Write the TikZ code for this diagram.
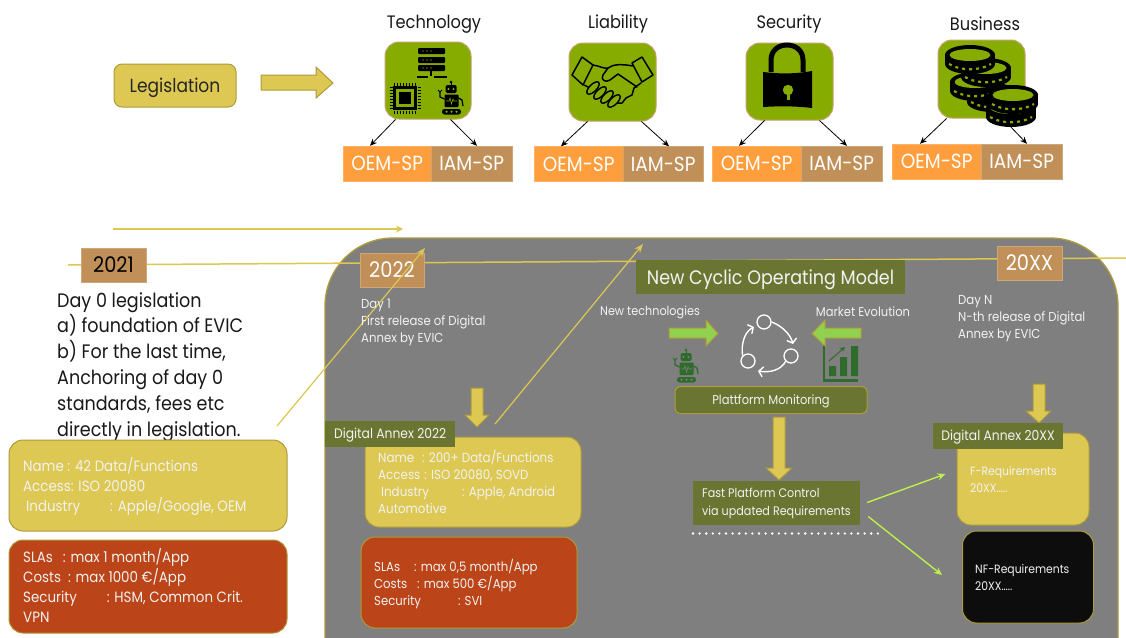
\documentclass[tikz,border=0pt]{standalone}
\usepackage{fontspec}
\setmainfont[FakeStretch=0.9]{Poppins}
\usetikzlibrary{arrows.meta,calc}
\definecolor{ygold}{HTML}{DDC853}
\definecolor{yline}{HTML}{DCC850}
\definecolor{bord}{HTML}{AD9B3C}
\definecolor{tan}{HTML}{C09058}
\definecolor{orng}{HTML}{FF9E3D}
\definecolor{leaf}{HTML}{87AC00}
\definecolor{olive}{HTML}{6B7532}
\definecolor{rust}{HTML}{BB4418}
\definecolor{panel}{HTML}{7F7F7F}
\definecolor{lime}{HTML}{92D050}
\definecolor{limeln}{HTML}{BDF04A}
\definecolor{dkgreen}{HTML}{2F6B2A}
\definecolor{soft}{HTML}{F2F2F2}
\newcommand{\fs}[2]{\fontsize{#1}{#2}\selectfont}
\newcommand{\robotic}[4]{% x y fg bg
 \begin{scope}[shift={(#1,#2)}]
  \fill[#3] (0,-16) circle[radius=1.3];
  \draw[#3,line width=1] (0,-16) -- (0,-13);
  \fill[#3,rounded corners=1.5] (-5.5,-13) rectangle (5.5,-5);
  \fill[#4] (-2.5,-9) circle[radius=1.1] (2.5,-9) circle[radius=1.1];
  \fill[#3,rounded corners=.8] (-6.5,-3.5) rectangle (7.5,9);
  \draw[#4,line width=.6] (-5,3) -- (-2,3) -- (-1,0) -- (.5,6) -- (2,1) -- (3,3) -- (6,3);
  \draw[#3,line width=1.3] (-6.5,1) -- (-11,-1) -- (-11,-6);
  \draw[#3,line width=1] (-13,-8) -- (-11,-6) -- (-9,-8);
  \draw[#3,line width=1.3] (7.5,0) -- (11,2) -- (12,8);
  \fill[#3,rounded corners=2.5] (-9,11) rectangle (10,16.5);
  \fill[#4] (-4.5,13.7) circle[radius=1.2] (.5,13.7) circle[radius=1.2] (5.5,13.7) circle[radius=1.2];
 \end{scope}}
\newcommand{\coinic}[2]{%
 \begin{scope}[shift={(#1,#2)}]
  \fill[black] (0,9) ellipse[x radius=25,y radius=10];
  \fill[black] (-25,0) rectangle (25,9);
  \fill[black] (0,0) ellipse[x radius=25,y radius=10];
  \fill[leaf] (0,0) ellipse[x radius=20.5,y radius=6];
  \draw[leaf,line width=2.2,dash pattern=on 3pt off 4pt] (-21,9) .. controls (-10,16) and (10,16) .. (21,9);
 \end{scope}}
\tikzset{
 x=1pt,y=-1pt,
 softbox/.style={rounded corners=#1,draw=bord,line width=1},
 softbox/.default=14,
 tag/.style={fill=olive,text=soft,inner sep=0,minimum height=26,font=\fs{13.7}{16},text height=13.9pt,text depth=4pt},
 sqbox/.style={draw=#1!80!white,fill=#1,inner sep=0,minimum height=35,text=white,font=\fs{20.5}{22},text height=18.8pt,text depth=4pt},
 yearbox/.style={fill=tan,draw=tan!80!white,line width=.6,inner sep=0,minimum width=65,minimum height=34,font=\fs{21.5}{24},text height=19.5pt,text depth=4pt},
 ttl/.style={inner sep=0,anchor=base,font=\fs{18}{20},text=black!90},
 iconbox/.style={draw=tan!85!white,line width=1,fill=leaf,rounded corners=14,inner sep=0},
 tiny/.style={-{Stealth[length=7pt,width=6pt]},line width=.8,black},
 timel/.style={yline,line width=1.5},
 thin arrow/.style={yline,line width=1.2,-{Stealth[length=9pt,width=7pt]}},
 pointer/.style={limeln,line width=1.4,-{Stealth[length=8pt,width=7pt]}},
 blocky/.style={draw=bord,line width=1,fill=ygold},
 blockg/.style={draw=bord,line width=1,fill=lime},
 para/.style={inner sep=0,anchor=north west,align=left,text=soft},
 spin/.style={white,line width=1.4,-{Straight Barb[length=4pt,width=10pt]}},
 ring/.style={circle,draw=white,line width=1.3,minimum size=14,inner sep=0},
}
\begin{document}
\begin{tikzpicture}
\clip (0,0) rectangle (1126,637);
\fill[white] (0,0) rectangle (1126,637);
% panel
\draw[panel,fill=panel,draw=bord,line width=1.3,rounded corners=68] (325,238) rectangle (1118,720);
% timeline
\coordinate (tlstart) at (68,265);
\coordinate (tlend) at (1126,258);
\draw[timel] (tlstart) -- (tlend);
\coordinate (topa) at (113,229);
\coordinate (topb) at (403,229);
\draw[yline,line width=1.2,-{Stealth[length=7pt,width=7pt]}] (topa) -- (topb);
% top row
\node[rounded corners=8,draw=bord,line width=1,fill=ygold,inner sep=0,minimum width=122,minimum height=43,font=\fs{19}{21},text=black!85,text height=17.7pt,text depth=4pt] (legis) at (175,85.5) {Legislation};
\draw[blocky] (261,75) -- (316,75) -- (316,67) -- (333,83) -- (316,98) -- (316,90) -- (261,90) -- cycle;

\node[ttl] (t1) at (434,28) {Technology};
\node[ttl] (t2) at (618,28) {Liability};
\node[ttl] (t3) at (789,28) {Security};
\node[ttl] (t4) at (985,30) {Business};

\node[iconbox,minimum width=86,minimum height=77] (i1) at (428,80.5) {};
\node[iconbox,minimum width=87,minimum height=78] (i2) at (612.5,82) {};
\node[iconbox,minimum width=87,minimum height=77] (i3) at (789.5,81.5) {};
\node[iconbox,minimum width=87,minimum height=78] (i4) at (981.5,79) {};

\node[sqbox=orng,minimum width=88,anchor=west] (o1) at (343,163.5) {OEM-SP};
\node[sqbox=tan,minimum width=81,anchor=west] (m1) at (431,163.5) {IAM-SP};
\node[sqbox=orng,minimum width=89,anchor=west] (o2) at (534,164) {OEM-SP};
\node[sqbox=tan,minimum width=80,anchor=west] (m2) at (623,164) {IAM-SP};
\node[sqbox=orng,minimum width=89,anchor=west] (o3) at (712,163.5) {OEM-SP};
\node[sqbox=tan,minimum width=81,anchor=west] (m3) at (801,163.5) {IAM-SP};
\node[sqbox=orng,minimum width=89,anchor=west] (o4) at (892,161.5) {OEM-SP};
\node[sqbox=tan,minimum width=81,anchor=west] (m4) at (981,161.5) {IAM-SP};

\draw[tiny] ([xshift=11pt]i1.south west) -- ([xshift=27pt]o1.north west);
\draw[tiny] ([xshift=66pt]i1.south west) -- ([xshift=46pt]m1.north west);
\draw[tiny] ([xshift=19pt]i2.south west) -- ([xshift=27pt]o2.north west);
\draw[tiny] ([xshift=73pt]i2.south west) -- ([xshift=46pt]m2.north west);
\draw[tiny] ([xshift=19pt]i3.south west) -- ([xshift=27pt]o3.north west);
\draw[tiny] ([xshift=74pt]i3.south west) -- ([xshift=46pt]m3.north west);
\draw[tiny] ([xshift=9pt]i4.south west) -- ([xshift=28pt]o4.north west);
\coordinate (coinout) at (1008,124);
\draw[tiny] (coinout) -- ([xshift=46pt]m4.north west);

% server icon
\foreach \yy in {48,57,65}{
 \fill[black,rounded corners=1] (418,\yy) rectangle (445,\yy+6);
 \fill[ygold] (423,\yy+3) circle[radius=.7] (427,\yy+3) circle[radius=.7] (431,\yy+3) circle[radius=.7];
}
\draw[black,line width=2] (431,71) -- (431,76);
\draw[black,line width=1.4] (417,77) -- (428,77) (434,77) -- (447,77);
% chip icon
\fill[black] (393,86) rectangle (417,110);
\fill[leaf] (396,89) rectangle (414,107);
\fill[black] (399,92) rectangle (411,104);
\foreach \kk in {0,...,7}{
 \draw[black,line width=.9] (394.5+3*\kk,82.5) -- (394.5+3*\kk,85.5) (394.5+3*\kk,110.5) -- (394.5+3*\kk,113.5);
 \draw[black,line width=.9] (389.5,87.5+3*\kk) -- (392.5,87.5+3*\kk) (417.5,87.5+3*\kk) -- (420.5,87.5+3*\kk);
}
\robotic{451}{98}{black}{leaf}
% handshake
\begin{scope}[black,line width=1.5,line join=round,line cap=round]
 \draw (582,57) -- (593,65) -- (583,85) -- (572,75) -- cycle;
 \draw (642,57) -- (653,75) -- (642,82) -- (632,63) -- cycle;
 \draw (593,65) .. controls (600,66) and (604,69) .. (608,68) .. controls (613,64) and (622,64) .. (633,66);
 \draw (608,68) -- (603,75) .. controls (600,80) and (606,83) .. (610,80) -- (618,74) -- (637,87);
 \draw (641,83) -- (634,88) -- (632,95) -- (626,98) -- (622,103) -- (616,103);
 \draw (584,85) -- (590,88);
\end{scope}
\foreach \cx/\cy in {593/88,600/93,607/97,614/101}{
 \draw[black,line width=1.4,fill=leaf,rotate around={45:(\cx,\cy)}] (\cx,\cy) ellipse[x radius=8,y radius=3.6];
}
% lock
\draw[black,line width=5] (771,72) -- (771,60) .. controls (771,40) and (803,40) .. (803,60) -- (803,72);
\fill[black] (763,72) .. controls (780,74) and (795,74) .. (812,71) -- (812,108) .. controls (795,106) and (780,106) .. (763,107) -- cycle;
\fill[leaf] (788,90) circle[radius=5.2];
\fill[leaf] (786.5,90) rectangle (789.5,100);
% coins
\coinic{992}{93}
\coinic{975}{82}
\coinic{986}{68}
\coinic{970}{55}
\coinic{1011}{108}
\coinic{1013}{95}

% years
\node[yearbox,text=black] (y21) at (113.5,265) {2021};
\node[yearbox,text=white,minimum width=64] (y22) at (392,270) {2022};
\node[yearbox,text=white] (yxx) at (1029.5,263) {20XX};

% left column
\node[para,text=black!90,font=\fs{19.5}{25.8}] (day0) at (57,292) {Day 0 legislation\\a) foundation of EVIC\\b) For the last time,\\Anchoring of day 0\\standards, fees etc\\directly in legislation.};
\node[softbox,fill=ygold,inner sep=0,minimum width=278,minimum height=91] (ya) at (148,485.5) {};
\node[para,font=\fs{14.9}{20}] (yat) at (23,457.5) {Name : 42 Data/Functions\\Access: ISO 20080\\\hspace{3pt}Industry\hspace{30pt}: Apple/Google, OEM};
\node[softbox,fill=rust,inner sep=0,minimum width=278,minimum height=93] (ra) at (148,586.5) {};
\node[para,font=\fs{14.9}{20}] (rat) at (23,548.5) {SLAs\hspace{10pt}: max 1 month/App\\Costs\hspace{7pt}: max 1000 €/App\\Security\hspace{30pt}: HSM, Common Crit.\\VPN};

% slanted arrows
\coordinate (sa1) at (277,426);
\coordinate (sa2) at (425,248);
\coordinate (sb1) at (495,424);
\coordinate (sb2) at (643,244);
\draw[thin arrow] (sa1) -- (sa2);
\draw[thin arrow] (sb1) -- (sb2);

% 2022 column
\node[para,font=\fs{13}{17}] (d1) at (361,299) {Day 1\\First release of Digital\\Annex by EVIC};
\draw[blocky] (471,388) -- (483,388) -- (483,415) -- (489,415) -- (477,427) -- (465,415) -- (471,415) -- cycle;
\node[softbox,fill=ygold,inner sep=0,minimum width=216,minimum height=90] (yb) at (473,482) {};
\node[tag,minimum width=130,anchor=west] (ta) at (325,433.5) {Digital Annex 2022};
\node[para,font=\fs{13.2}{17}] (ybt) at (378,450) {Name\hspace{8pt}: 200+ Data/Functions\\Access\hspace{4pt}: ISO 20080, SOVD\\\hspace{3pt}Industry\hspace{33pt}: Apple, Android\\Automotive};
\node[softbox,fill=rust,inner sep=0,minimum width=216,minimum height=91] (rb) at (469,582.5) {};
\node[para,font=\fs{13}{17}] (rbt) at (374,559) {SLAs\hspace{14pt}: max 0,5 month/App\\Costs\hspace{10pt}: max 500 €/App\\Security\hspace{37pt}: SVI};

% cyclic model
\node[fill=olive,text=soft,inner sep=0,minimum width=269,minimum height=34,font=\fs{19.5}{22},text height=18pt,text depth=4pt] (cyc) at (770.5,277) {New Cyclic Operating Model};
\node[inner sep=0,text=soft,font=\fs{12.5}{14}] (nt) at (650,312) {New technologies};
\node[inner sep=0,text=soft,font=\fs{12.8}{14}] (me) at (863,312) {Market Evolution};
\draw[blockg] (669,328) -- (706,328) -- (706,320) -- (718,333.5) -- (706,346) -- (706,338) -- (669,338) -- cycle;
\draw[blockg] (861,328) -- (825,328) -- (825,320) -- (812,333.5) -- (825,346) -- (825,338) -- (861,338) -- cycle;
\node[ring] (c1) at (764,322) {};
\node[ring] (c2) at (791,356) {};
\node[ring] (c3) at (748,361) {};
\draw[spin] (c1.east) .. controls (780,325) and (790,333) .. (793,344);
\draw[spin] (c2.south west) .. controls (781,370) and (770,373) .. (758,371);
\draw[spin] (c3.north west) .. controls (741,345) and (744,332) .. (754,327);
\robotic{686}{366}{dkgreen}{panel}
\draw[dkgreen,line width=2.4] (824,346) -- (824,380.5) -- (858,380.5);
\fill[dkgreen] (829,366) rectangle (836,376) (840,357) rectangle (847,376) (851,346) rectangle (858,376);
\draw[dkgreen,line width=1,-{Stealth[length=5pt,width=5pt]}] (829,361) -- (845,347);
\node[rounded corners=5,draw=bord,line width=1,fill=olive,text=soft,inner sep=0,minimum width=192,minimum height=27,font=\fs{12.8}{14},text height=13.2pt,text depth=4pt] (pm) at (771,400) {Plattform Monitoring};
\draw[blocky] (773,417) -- (785,417) -- (785,468) -- (792,468) -- (779,480) -- (766,468) -- (773,468) -- cycle;
\node[fill=olive,inner sep=0,minimum width=167,minimum height=44] (fp) at (776.5,502.5) {};
\node[para,font=\fs{12.4}{17.5}] (fpt) at (702,488) {Fast Platform Control\\via updated Requirements};
\coordinate (da) at (693,533.5);
\coordinate (db) at (884,533.5);
\draw[white,line width=2.6,line cap=round,dash pattern=on 0pt off 6.6pt] (da) -- (db);

% 20XX column
\node[para,font=\fs{13}{17}] (dn) at (958,295) {Day N\\N-th release of Digital\\Annex by EVIC};
\draw[blocky] (1033,384) -- (1045,384) -- (1045,411) -- (1051,411) -- (1039,423) -- (1026,411) -- (1033,411) -- cycle;
\node[softbox,fill=ygold,inner sep=0,minimum width=132,minimum height=92] (yc) at (1023,479) {};
\node[tag,minimum width=130] (tb) at (998,436) {Digital Annex 20XX};
\node[para,font=\fs{12}{17}] (yct) at (970,466) {F-Requirements\\20XX…..};
\node[softbox,fill=black!95,inner sep=0,minimum width=131,minimum height=92] (kb) at (1028,577) {};
\node[para,font=\fs{12}{17}] (kbt) at (975,564) {NF-Requirements\\20XX…..};
\draw[pointer] ([xshift=7pt]fp.east) -- ([xshift=-11pt,yshift=5pt]yc.west);
\draw[pointer] ([xshift=8pt,yshift=-14pt]fp.east) -- ([xshift=-20pt,yshift=2pt]kb.west);
\end{tikzpicture}
\end{document}
